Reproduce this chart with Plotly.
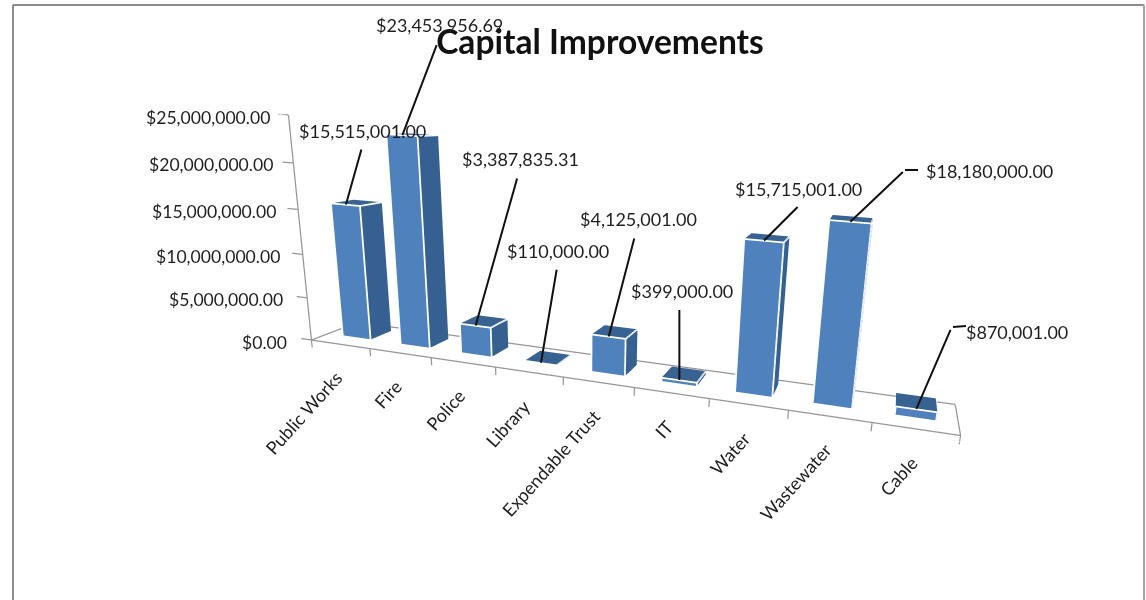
import plotly.graph_objects as go

categories = ["Public Works", "Fire", "Police", "Library", "Expendable Trust", "IT", "Water", "Wastewater", "Cable"]
values = [15515001.00, 23453956.69, 3387835.31, 110000.00, 4125001.00, 399000.00, 15715001.00, 18180000.00, 870001.00]
value_labels = ["$15,515,001.00", "$23,453,956.69", "$3,387,835.31", "$110,000.00", "$4,125,001.00",
                "$399,000.00", "$15,715,001.00", "$18,180,000.00", "$870,001.00"]
axis_ticks = [0, 5000000, 10000000, 15000000, 20000000, 25000000]
axis_tick_labels = ["$0.00", "$5,000,000.00", "$10,000,000.00", "$15,000,000.00", "$20,000,000.00", "$25,000,000.00"]

# label placement in pixels, relative to the bar top or the axis tick
leader_ax = [16, 35, 42, 16, 26, 0, 35, 54, 35]
leader_ay = [-57, -92, -149, -95, -100, -72, -35, -51, -81]
text_dx = [17, 37, 45, 17, 30, 3, 34, 139, 101]
text_dy = [74, 110, 166, 112, 117, 89, 52, 51, 77]
tick_dx = [-22, -22, -21, -20, -18, -16]
tick_dy = [-2, -2, -2, -2, -2, -3]

FONT = "Lato"
FRONT, SIDE, TOP = "#4f81bd", "#35608f", "#386291"
W = 1146; H = 600
HALF = 0.243          # half bar width, in categories
Y0, Y1 = 0.36, 0.824  # bar depth on the unit floor

# scene ranges and camera
xr = [-0.75, 8.5]; yr = [0.0, 1.0]; zr = [-1200000.0, 25000000.0]
base_asp = [2.466, 0.262, 0.872]
eye = [0.951, -2.385, 0.54]; look = [-0.244, 0.934, -0.261]; up = [-0.109, 0.241, 0.964]
spans = [xr[1] - xr[0], yr[1] - yr[0], zr[1] - zr[0]]
asp = [base_asp[0] * spans[0] / 9.0, base_asp[1] * spans[1], base_asp[2] * spans[2] / 25e6]
# model coordinate of the floor origin under the old and the new ranges
old0 = [-0.5 * base_asp[0], -0.5 * base_asp[1], -0.5 * base_asp[2]]
new0 = [asp[0] * ((-0.5 - xr[0]) / spans[0] - 0.5), asp[1] * ((0 - yr[0]) / spans[1] - 0.5), asp[2] * ((0 - zr[0]) / spans[2] - 0.5)]
shift = [n - o for n, o in zip(new0, old0)]
eye2 = [e + s for e, s in zip(eye, shift)]
center2 = [e + l * 2.5 for e, l in zip(eye2, look)]

vx, vy, vz, ii, jj, kk, fc = [], [], [], [], [], [], []
ex, ey, ez = [], [], []
for c, v in enumerate(values):
    a, b = c - HALF, c + HALF
    n = len(vx)
    for z in (0, v):
        for y in (Y0, Y1):
            for x in (a, b):
                vx.append(x); vy.append(y); vz.append(z)
    faces = [((0, 1, 5), FRONT), ((0, 5, 4), FRONT), ((1, 3, 7), SIDE), ((1, 7, 5), SIDE),
             ((4, 5, 7), TOP), ((4, 7, 6), TOP)]
    for (p, q, r), col in faces:
        ii.append(n + p); jj.append(n + q); kk.append(n + r); fc.append(col)
    eps = 0.012
    ex += [a, a, b, b, None, b, b, None]
    ey += [Y0 - eps] * 4 + [None, Y0 - eps, Y1, None]
    ez += [0, v, v, 0, None, v, v, None]

fig = go.Figure()
fig.add_trace(go.Mesh3d(x=vx, y=vy, z=vz, i=ii, j=jj, k=kk, facecolor=fc, flatshading=True,
                        lighting=dict(ambient=1, diffuse=0, specular=0, roughness=1, fresnel=0), hoverinfo="skip"))
fig.add_trace(go.Scatter3d(x=ex, y=ey, z=ez, mode="lines", line=dict(color="white", width=3.5), hoverinfo="skip"))

# floor and axes
GRAY = "#979797"
lx, ly, lz = [-0.5, 8.5, 8.5, -0.5, -0.5, None], [0, 0, 1, 1, 0, None], [0, 0, 0, 0, 0, None]
lx += [-0.5, -0.5, None]; ly += [0, 0, None]; lz += [0, axis_ticks[-1], None]
for t in axis_ticks:
    lx += [-0.5, -0.68, None]; ly += [0, 0, None]; lz += [t, t, None]
for i in range(len(categories) + 1):
    lx += [i - 0.5, i - 0.5, None]; ly += [0, 0, None]; lz += [0, -900000, None]
fig.add_trace(go.Scatter3d(x=lx, y=ly, z=lz, mode="lines", line=dict(color=GRAY, width=2.5), hoverinfo="skip"))

ann = []
f18 = dict(family=FONT, size=18, color="#1f1f1f")
f_tick = dict(family=FONT, size=17.6, color="#1f1f1f")
for t, s, dx, dy in zip(axis_ticks, axis_tick_labels, tick_dx, tick_dy):
    ann.append(dict(x=-0.5, y=0, z=t, text=s, showarrow=False, xanchor="right", yanchor="middle",
                    xshift=dx, yshift=dy, font=f_tick))
for i, s in enumerate(categories):
    ann.append(dict(x=i, y=0, z=0, text=s, showarrow=False, xanchor="right", yanchor="top", textangle=-48,
                    xshift=9, yshift=-20, font=f18))
for i, s in enumerate(value_labels):
    ann.append(dict(x=i, y=Y0, z=values[i], text=" ", showarrow=True, ax=leader_ax[i], ay=leader_ay[i],
                    arrowhead=0, arrowwidth=2, arrowcolor="#111111", standoff=0, font=dict(size=1)))
    ann.append(dict(x=i, y=Y0, z=values[i], text=s, showarrow=False, xshift=text_dx[i], yshift=text_dy[i],
                    xanchor="center", yanchor="middle", font=f18))

def pxx(x): return x / W
def pxy(y): return 1 - y / H
def seg(x0, y0, x1, y1, color, width):
    return dict(type="line", xref="paper", yref="paper", x0=pxx(x0), y0=pxy(y0), x1=pxx(x1), y1=pxy(y1),
                line=dict(color=color, width=width))

shapes = [seg(905, 170, 918, 170, "#111111", 2), seg(953, 327, 966, 326, "#111111", 2),
          seg(13, 5, 13, 600, "#8c8c8c", 2), seg(13, 5, 1144, 5, "#8c8c8c", 2), seg(1144, 5, 1144, 600, "#a6a6a6", 2)]

hidden = dict(visible=False, showspikes=False)
fig.update_layout(
    width=W, height=H, margin=dict(l=0, r=0, t=0, b=0), paper_bgcolor="white", showlegend=False,
    title=dict(text="<b>Capital Improvements</b>", x=600 / W, y=1 - 42 / H, xanchor="center", yanchor="middle",
               font=dict(family=FONT, size=33.6, color="#111111")),
    shapes=shapes,
    scene=dict(
        domain=dict(x=[254 / W, 1], y=[0, 1]), bgcolor="white", dragmode="orbit", aspectmode="manual",
        aspectratio=dict(x=asp[0], y=asp[1], z=asp[2]),
        xaxis=dict(range=xr, **hidden), yaxis=dict(range=yr, **hidden), zaxis=dict(range=zr, **hidden),
        camera=dict(eye=dict(x=eye2[0], y=eye2[1], z=eye2[2]), center=dict(x=center2[0], y=center2[1], z=center2[2]),
                    up=dict(x=up[0], y=up[1], z=up[2]), projection=dict(type="perspective")),
        annotations=ann))
fig.write_html("out.html", post_script="document.body.style.margin='0';", config=dict(displayModeBar=False))
